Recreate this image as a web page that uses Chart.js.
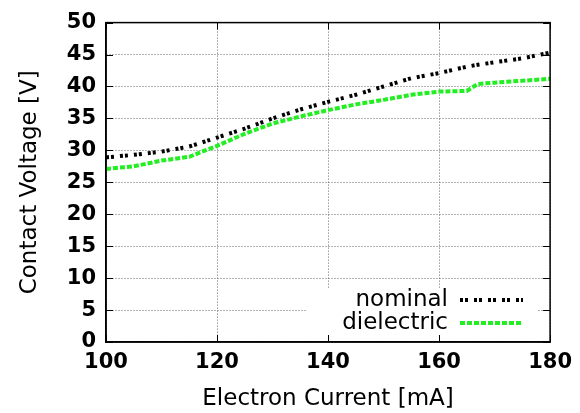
<!DOCTYPE html>
<html>
<head>
<meta charset="utf-8">
<script src="https://cdn.jsdelivr.net/npm/chart.js@4/dist/chart.umd.min.js"></script>
<style>
  html, body { margin: 0; padding: 0; background: #fff; }
  #wrap { width: 580px; height: 413px; position: relative; }
</style>
</head>
<body>
<div id="wrap"><canvas id="grafik"></canvas></div>
<script>
// ===== data =====
const currents   = [100, 105, 110, 115, 120, 125, 130, 135, 140, 145, 150, 155, 160, 165, 167, 170, 175, 180];
const nominal    = [28.9, 29.3, 29.8, 30.6, 32.0, 33.4, 35.0, 36.4, 37.6, 38.7, 40.0, 41.3, 42.1, 43.1, 43.4, 43.8, 44.4, 45.3];
const dielectric = [27.1, 27.5, 28.4, 29.0, 30.7, 32.6, 34.2, 35.3, 36.3, 37.2, 37.9, 38.7, 39.2, 39.3, 40.4, 40.6, 40.9, 41.2];
const seriesNames = ['nominal', 'dielectric'];
const xTitle = 'Electron Current [mA]';
const yTitle = 'Contact Voltage [V]';

const FONT = 'DejaVu Sans';

// ===== gnuplot-ish frame, inward ticks, legend inside bottom-right =====
const gnuplotBits = {
  id: 'gnuplotBits',
  afterDatasetsDraw(chart) {
    const { ctx, chartArea: a, scales } = chart;
    ctx.save();

    // legend box (white, hides grid behind it)
    ctx.fillStyle = '#fff';
    ctx.fillRect(307, 289, 231, 46);
    const textRight = 448, x0 = 460, x1 = 523;
    const rows = [300, 323];
    ctx.font = `23px "${FONT}"`;
    ctx.textAlign = 'right';
    ctx.textBaseline = 'middle';
    chart.data.datasets.forEach((ds, i) => {
      const y = rows[i];
      ctx.fillStyle = '#000';
      ctx.fillText(ds.label, textRight, y);
      ctx.strokeStyle = ds.borderColor;
      ctx.lineWidth = ds.borderWidth;
      ctx.setLineDash(ds.borderDash);
      ctx.beginPath();
      ctx.moveTo(x0, y); ctx.lineTo(x1, y);
      ctx.stroke();
    });

    // inward ticks
    ctx.setLineDash([]);
    ctx.strokeStyle = '#000';
    ctx.lineWidth = 1;
    const tl = 7;
    scales.x.ticks.forEach(t => {
      const x = Math.round(scales.x.getPixelForValue(t.value)) + 0.5;
      ctx.beginPath();
      ctx.moveTo(x, a.bottom); ctx.lineTo(x, a.bottom - tl);
      ctx.moveTo(x, a.top); ctx.lineTo(x, a.top + tl);
      ctx.stroke();
    });
    scales.y.ticks.forEach(t => {
      const y = Math.round(scales.y.getPixelForValue(t.value)) + 0.5;
      ctx.beginPath();
      ctx.moveTo(a.left, y); ctx.lineTo(a.left + tl, y);
      ctx.moveTo(a.right, y); ctx.lineTo(a.right - tl, y);
      ctx.stroke();
    });

    // frame
    ctx.lineWidth = 1.5;
    ctx.strokeRect(a.left, a.top, a.right - a.left, a.bottom - a.top);
    ctx.restore();
  }
};

const gridOpts = { color: '#666', lineWidth: 1, drawTicks: false };
const borderOpts = { color: '#000', width: 1.5, dash: [1, 2] };

const ctx = document.getElementById('grafik').getContext('2d');
new Chart(ctx, {
  type: 'line',
  data: {
    datasets: [
      {
        label: seriesNames[0],
        data: currents.map((c, i) => ({ x: c, y: nominal[i] })),
        borderColor: '#000',
        borderWidth: 4,
        borderDash: [3, 2, 3, 6],
        pointRadius: 0,
        tension: 0,
        fill: false
      },
      {
        label: seriesNames[1],
        data: currents.map((c, i) => ({ x: c, y: dielectric[i] })),
        borderColor: '#22ee22',
        borderWidth: 4,
        borderDash: [5, 2],
        pointRadius: 0,
        tension: 0,
        fill: false
      }
    ]
  },
  options: {
    responsive: true,
    maintainAspectRatio: false,
    animation: false,
    layout: { padding: { top: 19, right: 28, left: 0, bottom: 0 } },
    plugins: { legend: { display: false }, tooltip: { enabled: false } },
    scales: {
      x: {
        type: 'linear', min: 100, max: 180,
        ticks: { stepSize: 20, color: '#000', font: { family: FONT, size: 21, weight: 'bold' }, padding: 8 },
        grid: gridOpts,
        border: borderOpts,
        title: { display: true, text: xTitle, color: '#000', font: { family: FONT, size: 23 }, padding: { top: 0, bottom: 0 } },
        afterFit: s => { s.height = 71; }
      },
      y: {
        min: 0, max: 50,
        ticks: { stepSize: 5, color: '#000', font: { family: FONT, size: 21, weight: 'bold' }, padding: 10 },
        grid: gridOpts,
        border: borderOpts,
        title: { display: true, text: yTitle, color: '#000', font: { family: FONT, size: 23 }, padding: { top: 16, bottom: 0 } },
        afterFit: s => { s.width = 106; }
      }
    }
  },
  plugins: [gnuplotBits]
});
</script>
</body>
</html>
